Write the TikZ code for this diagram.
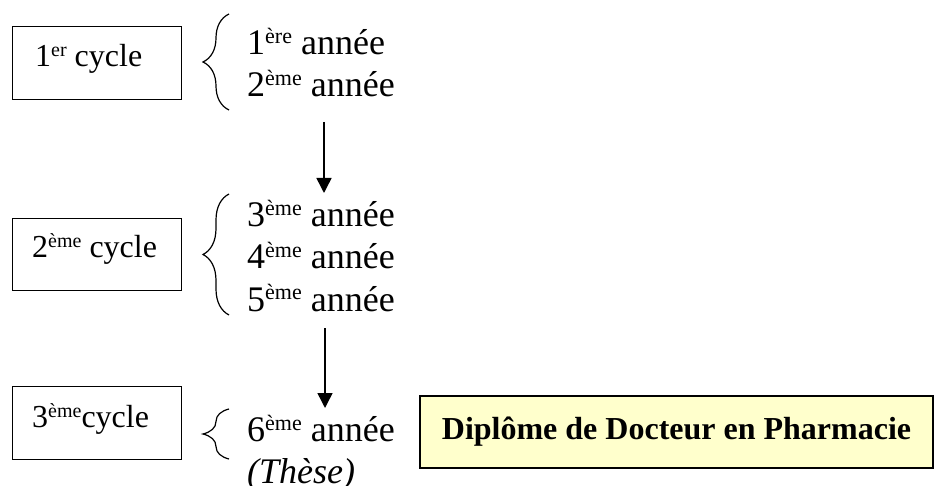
\documentclass[tikz,border=0pt]{standalone}
\usepackage{fontspec}
\setmainfont{Liberation Serif}
\usetikzlibrary{arrows.meta,decorations.pathreplacing}
\definecolor{lightyel}{HTML}{FFFFCC}
\newcommand{\supbig}[1]{\raisebox{11pt}{\fontsize{22}{22}\selectfont #1}}
\newcommand{\supsmall}[1]{\raisebox{10pt}{\fontsize{20}{20}\selectfont #1}}
\begin{document}
\begin{tikzpicture}[x=1pt,y=-1pt,
 cyclebox/.style={draw, line width=1.3pt, minimum width=169pt, minimum height=73pt, anchor=north west, inner sep=0pt},
 cyctext/.style={anchor=base west, inner sep=0pt, font=\fontsize{32}{38}\selectfont},
 year/.style={anchor=base west, inner sep=0pt, font=\fontsize{36}{42}\selectfont},
 brc/.style={decorate, decoration={brace, amplitude=26pt}, line width=1.2pt},
 arr/.style={-{Triangle[width=15pt,length=15pt]}, line width=1.5pt},
 dipbox/.style={draw, line width=1.6pt, fill=lightyel, minimum width=513pt, minimum height=72pt, inner sep=0pt, font=\fontsize{32}{38}\selectfont\bfseries}
 ]
\useasboundingbox (0,0) rectangle (934,486);
% cycle boxes
\node[cyclebox] (c1) at (12,26) {};
\node[cyctext] (t1) at (35,67) {1\supsmall{er} cycle};
\node[cyclebox, minimum height=72pt] (c2) at (12,218) {};
\node[cyctext] (t2) at (32,258) {2\supsmall{ème} cycle};
\node[cyclebox] (c3) at (12,386) {};
\node[cyctext] (t3) at (32,427) {3\supsmall{ème}cycle};
% braces
\coordinate (b1b) at (229,110); \coordinate (b1t) at (229,14);
\coordinate (b2b) at (229,315); \coordinate (b2t) at (229,194);
\coordinate (b3b) at (229,459); \coordinate (b3t) at (229,409);
\draw[brc] (b1b) -- (b1t);
\draw[brc] (b2b) -- (b2t);
\draw[brc, decoration={brace, amplitude=26pt}] (b3b) -- (b3t);
% years
\node[year] (y1) at (247,55) {1\supbig{ère} année};
\node[year] (y2) at (247,97) {2\supbig{ème} année};
\node[year] (y3) at (247,227) {3\supbig{ème} année};
\node[year] (y4) at (247,269) {4\supbig{ème} année};
\node[year] (y5) at (247,311) {5\supbig{ème} année};
\node[year] (y6) at (247,441) {6\supbig{ème} année};
\node[year] (y7) at (247,483) {\itshape (Thèse)};
% arrows
\coordinate (a1s) at (324,122); \coordinate (a1e) at (324,193);
\coordinate (a2s) at (325,328); \coordinate (a2e) at (325,408);
\draw[arr] (a1s) -- (a1e);
\draw[arr] (a2s) -- (a2e);
% diploma
\node[dipbox] (dip) at (676.5,432) {Diplôme de Docteur en Pharmacie};
\end{tikzpicture}
\end{document}
